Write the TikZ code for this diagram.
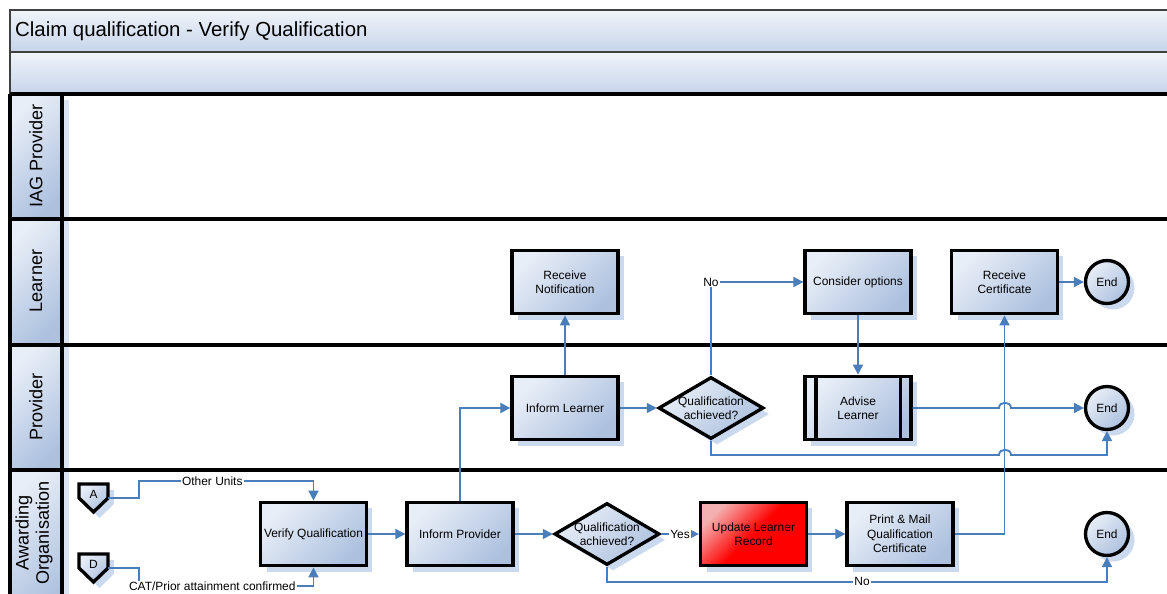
\documentclass[tikz,border=0pt]{standalone}
\usepackage{fontspec}
\setmainfont{Liberation Sans}
\usetikzlibrary{shapes.geometric,arrows.meta,shadows}
\definecolor{conn}{HTML}{4A7EBB}
\definecolor{boxlight}{HTML}{E8EEF7}
\definecolor{boxdark}{HTML}{ADC1DF}
\definecolor{shadowblue}{HTML}{CBD9EE}
\definecolor{titlelight}{HTML}{F0F4FA}
\definecolor{titledark}{HTML}{C6D4EA}
\definecolor{titleline}{HTML}{404040}
\definecolor{redlight}{HTML}{F4B0B0}
\newcommand{\nfont}{\fontsize{6.8}{8.2}\selectfont}
\newcommand{\lfont}{\fontsize{10.3}{11.5}\selectfont}
\begin{document}
\begin{tikzpicture}[x=0.02cm,y=-0.02cm,
  conn/.style={draw=conn,line width=1.05pt,-{Triangle[length=0.2cm,width=0.2cm]}},
  plainconn/.style={draw=conn,line width=1.05pt},
  shd/.style={general shadow={fill=shadowblue,draw=none,shadow xshift=0.12cm,shadow yshift=-0.12cm}},
  proc/.style={shd,rectangle,draw=black,line width=1.9pt,top color=boxlight,bottom color=boxdark,shading angle=45,minimum width=2.12cm,minimum height=1.27cm,inner sep=1pt,align=center,font=\nfont},
  redproc/.style={proc,top color=redlight,bottom color=red,middle color=red,shading angle=45},
  dec/.style={shd,diamond,aspect=1.7,draw=black,line width=1.9pt,top color=boxlight,bottom color=boxdark,shading angle=45,minimum width=2.1cm,minimum height=1.24cm,inner sep=0pt,align=center,font=\nfont},
  endc/.style={shd,circle,draw=black,line width=1.9pt,top color=boxlight,bottom color=boxdark,shading angle=45,minimum size=0.86cm,inner sep=0pt,font=\nfont},
  lbl/.style={fill=white,inner sep=0.6pt,font=\nfont},
  offtxt/.style={minimum width=0.58cm,minimum height=0.56cm,inner sep=0pt,text height=5pt,text depth=4.7pt,font=\nfont},
  offshape/.style={shd,draw=black,line width=1.9pt,top color=boxlight,bottom color=boxdark,shading angle=45},
  lanelbl/.style={rotate=90,align=center,font=\lfont}
]
\useasboundingbox (0,0) rectangle (1167,594);
\clip (0,0) rectangle (1167,594);
\fill[white] (0,0) rectangle (1167,594);

% title bands
\shade[top color=titlelight,bottom color=titledark] (10,10) rectangle (1180,52);
\shade[top color=titlelight,bottom color=titledark] (10,52) rectangle (1180,94);
\draw[titleline,line width=0.8pt] (1180,10) -- (10,10) -- (10,94);
\draw[titleline,line width=0.8pt] (10,52) -- (1180,52);
\node[anchor=west,font=\fontsize{11.6}{14}\selectfont] (title) at (9,31) {Claim qualification - Verify Qualification};

% lanes
\fill[white] (10,94) rectangle (1180,620);
\foreach \ya/\yb in {94/219,219/345,345/470,470/620}{
  \fill[shadowblue!70!white] (62,\ya+6) rectangle (69,\yb+6);
  \shade[top color=boxlight,bottom color=boxdark,shading angle=45] (10,\ya) rectangle (62,\yb);
}
\foreach \y in {94,219,345,470}{
  \draw[line width=1.9pt] (10,\y) -- (1180,\y);
}
\draw[line width=1.9pt] (10,94) -- (10,620);
\draw[line width=1.9pt] (62,94) -- (62,620);

\node[lanelbl] (lIAG) at (36,156) {IAG Provider};
\node[lanelbl] (lLearner) at (36,281) {Learner};
\node[lanelbl] (lProvider) at (36,407) {Provider};
\node[lanelbl] (lAO) at (34,533) {Awarding\\Organisation};

% off-page connectors
\draw[offshape] (79,484) -- (108,484) -- (108,498) -- (93.5,512) -- (79,498) -- cycle;
\node[offtxt] (offA) at (93.5,498) {A};
\draw[offshape] (79,554) -- (108,554) -- (108,568) -- (93.5,582) -- (79,568) -- cycle;
\node[offtxt] (offD) at (93.5,568) {D};

% Awarding Organisation lane
\node[proc] (ver) at (313.5,534) {Verify Qualification};
\node[proc] (ip) at (460,534) {Inform Provider};
\node[dec] (d1) at (607,534) {Qualification\\achieved?};
\node[redproc] (upd) at (753.5,534) {Update Learner\\Record};
\node[proc] (pm) at (900,534) {Print \& Mail\\Qualification\\Certificate};
\node[endc] (endAO) at (1107,534) {End};

% Provider lane
\node[proc] (il) at (565,408) {Inform Learner};
\node[dec] (d2) at (711,408) {Qualification\\achieved?};
\node[proc] (adv) at (858,408) {Advise\\Learner};
\draw[line width=1.9pt] ([xshift=0.25cm]adv.north west) -- ([xshift=0.25cm]adv.south west);
\draw[line width=1.9pt] ([xshift=-0.25cm]adv.north east) -- ([xshift=-0.25cm]adv.south east);
\node[endc] (endP) at (1107,408) {End};

% Learner lane
\node[proc] (rn) at (565,282) {Receive\\Notification};
\node[proc] (co) at (858,282) {Consider options};
\node[proc] (rc) at (1004.5,282) {Receive\\Certificate};
\node[endc] (endL) at (1107,282) {End};

% connectors
\draw[conn] (offA.east) -- (139,498) -- (139,481) -| node[pos=0.21,lbl] (lOther) {Other Units} (ver.north);
\draw[conn] (offD.east) -- (139,568) -- (139,586) -| node[pos=0.21,lbl] (lCAT) {CAT/Prior attainment confirmed} (ver.south);
\draw[conn] (ver.east) -- (ip.west);
\draw[conn] (ip.north) |- (il.west);
\draw[conn] (ip.east) -- (d1.west);
\draw[conn] (d1.east) -- node[lbl] (lYes) {Yes} (upd.west);
\draw[conn] (d1.south) -- ++(0,15) -| node[pos=0.255,lbl] (lNo1) {No} (endAO.south);
\draw[conn] (upd.east) -- (pm.west);
\draw[conn] (pm.east) -| (rc.south);
\draw[conn] (rc.east) -- (endL.west);
\draw[conn] (il.north) -- (rn.south);
\draw[conn] (il.east) -- (d2.west);
\draw[conn] (d2.north) |- node[pos=0.5,lbl] (lNo2) {No} (co.west);
\draw[conn] (co.south) -- (adv.north);
\draw[conn] (adv.east) -- (999,408) .. controls (999,401) and (1011,401) .. (1011,408) -- (endP.west);
\draw[conn] (d2.south) -- (711,455) -- (999,455) .. controls (999,448) and (1011,448) .. (1011,455) -| (endP.south);
\end{tikzpicture}
\end{document}
